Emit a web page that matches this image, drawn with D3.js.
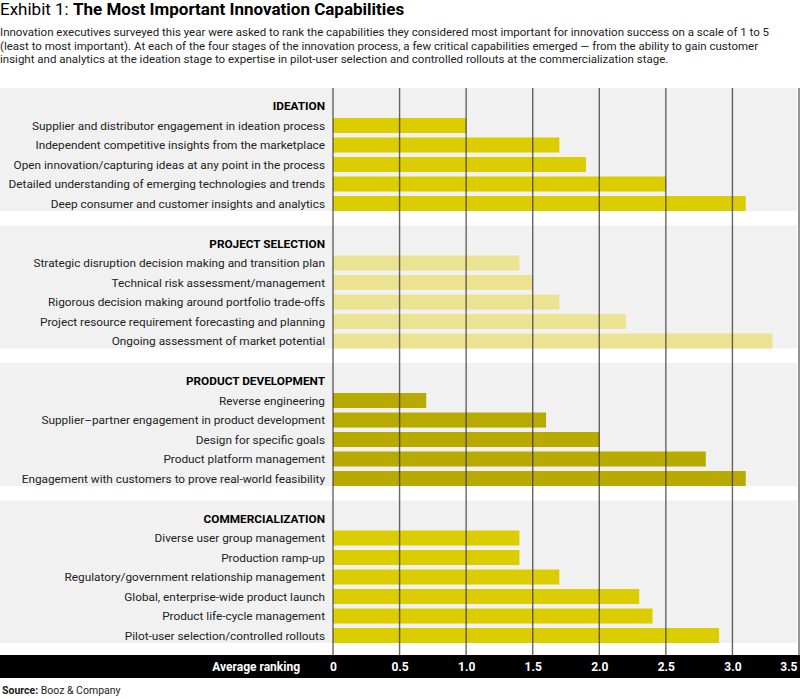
<!DOCTYPE html>
<html>
<head>
<meta charset="utf-8">
<script src="https://cdn.jsdelivr.net/npm/d3@7"></script>
<style>
  body { margin: 0; background: #fff; }
  svg { font-family: Roboto, "Noto Sans", sans-serif; }
</style>
</head>
<body>
<div id="chart"></div>
<script>
var groupNames = ["IDEATION", "PROJECT SELECTION", "PRODUCT DEVELOPMENT", "COMMERCIALIZATION"];

var ideationLabels = [
  "Supplier and distributor engagement in ideation process",
  "Independent competitive insights from the marketplace",
  "Open innovation/capturing ideas at any point in the process",
  "Detailed understanding of emerging technologies and trends",
  "Deep consumer and customer insights and analytics"
];
var ideationValues = [1.0, 1.7, 1.9, 2.5, 3.1];

var selectionLabels = [
  "Strategic disruption decision making and transition plan",
  "Technical risk assessment/management",
  "Rigorous decision making around portfolio trade-offs",
  "Project resource requirement forecasting and planning",
  "Ongoing assessment of market potential"
];
var selectionValues = [1.4, 1.5, 1.7, 2.2, 3.3];

var developmentLabels = [
  "Reverse engineering",
  "Supplier\u2013partner engagement in product development",
  "Design for specific goals",
  "Product platform management",
  "Engagement with customers to prove real-world feasibility"
];
var developmentValues = [0.7, 1.6, 2.0, 2.8, 3.1];

var commercialLabels = [
  "Diverse user group management",
  "Production ramp-up",
  "Regulatory/government relationship management",
  "Global, enterprise-wide product launch",
  "Product life-cycle management",
  "Pilot-user selection/controlled rollouts"
];
var commercialValues = [1.4, 1.4, 1.7, 2.3, 2.4, 2.9];

var tickValues = [0, 0.5, 1.0, 1.5, 2.0, 2.5, 3.0, 3.5];

var groupColors = ["#dccd00", "#ebe391", "#b8aa00", "#dccd00"];

var W = 800, H = 699;
var svg = d3.select("#chart").append("svg")
  .attr("width", W)
  .attr("height", H);

// title + intro
var title = svg.append("text").attr("x", 0).attr("y", 15).style("font-size", "17px").style("fill", "#000");
title.append("tspan").text("Exhibit 1: ");
title.append("tspan").style("font-weight", "bold").text("The Most Important Innovation Capabilities");

var intro = [
  "Innovation executives surveyed this year were asked to rank the capabilities they considered most important for innovation success on a scale of 1 to 5",
  "(least to most important). At each of the four stages of the innovation process, a few critical capabilities emerged \u2014 from the ability to gain customer",
  "insight and analytics at the ideation stage to expertise in pilot-user selection and controlled rollouts at the commercialization stage."
];
svg.selectAll("text.intro").data(intro).enter().append("text")
  .attr("class", "intro")
  .attr("x", 0)
  .attr("y", function (d, i) { return 36 + i * 13.5; })
  .style("font-size", "11.5px")
  .style("fill", "#222")
  .text(function (d) { return d; });

var x = d3.scaleLinear().domain([0, 3.5]).range([333, 799]);

var groups = [
  { name: groupNames[0], labels: ideationLabels, values: ideationValues },
  { name: groupNames[1], labels: selectionLabels, values: selectionValues },
  { name: groupNames[2], labels: developmentLabels, values: developmentValues },
  { name: groupNames[3], labels: commercialLabels, values: commercialValues }
];

var step = 19.5, panelTop = 88;
var chartTop = panelTop;

groups.forEach(function (g, gi) {
  var n = g.labels.length;
  var y = d3.scaleBand()
    .domain(g.labels)
    .range([panelTop + 27.75, panelTop + 27.75 + n * step])
    .paddingInner(0.23)
    .paddingOuter(0.115);
  var bottom = y(g.labels[n - 1]) + y.bandwidth();

  var grp = svg.append("g");
  grp.append("rect")
    .attr("x", 0).attr("y", panelTop)
    .attr("width", 797).attr("height", bottom - panelTop)
    .style("fill", "#f1f1f1");

  grp.append("text")
    .attr("x", 325).attr("y", panelTop + 22)
    .attr("text-anchor", "end")
    .style("font-size", "11.8px")
    .style("font-weight", "bold")
    .style("fill", "#000")
    .text(g.name);

  grp.selectAll("text.lab").data(g.labels).enter().append("text")
    .attr("class", "lab")
    .attr("x", 325)
    .attr("y", function (d) { return y(d) + y.bandwidth() / 2 + 4; })
    .attr("text-anchor", "end")
    .style("font-size", "11.8px")
    .style("fill", "#222")
    .text(function (d) { return d; });

  grp.selectAll("rect.bar").data(g.values).enter().append("rect")
    .attr("class", "bar")
    .attr("x", x(0))
    .attr("y", function (d, i) { return y(g.labels[i]); })
    .attr("width", function (d) { return x(d) - x(0); })
    .attr("height", y.bandwidth())
    .style("fill", groupColors[gi]);

  panelTop = bottom + 14.5;
});

var axisY = 655;

// gridlines over the bars
svg.append("g").selectAll("line").data(tickValues).enter().append("line")
  .attr("x1", function (d) { return x(d); })
  .attr("x2", function (d) { return x(d); })
  .attr("y1", chartTop)
  .attr("y2", axisY)
  .style("stroke", "#333")
  .style("stroke-opacity", 0.75)
  .style("stroke-width", 1.4);

// black axis band
svg.append("rect")
  .attr("x", 0).attr("y", axisY)
  .attr("width", W).attr("height", 23)
  .style("fill", "#000");

svg.append("text")
  .attr("x", 300).attr("y", axisY + 16)
  .attr("text-anchor", "end")
  .style("font-size", "12px")
  .style("font-weight", "bold")
  .style("fill", "#fff")
  .text("Average ranking");

var axis = d3.axisBottom(x)
  .tickValues(tickValues)
  .tickSize(0)
  .tickFormat(function (d) { return d === 0 ? "0" : d.toFixed(1); });

var ax = svg.append("g")
  .attr("transform", "translate(0," + (axisY + 4) + ")")
  .call(axis);
ax.select(".domain").remove();
ax.selectAll("text")
  .style("font-family", "Roboto, sans-serif")
  .style("font-size", "12px")
  .style("font-weight", "bold")
  .style("fill", "#fff");
ax.selectAll(".tick").filter(function (d) { return d === 3.5; })
  .select("text").attr("text-anchor", "end").attr("x", -2);

// source
var src = svg.append("text").attr("x", 2).attr("y", 694).style("font-size", "10.5px").style("fill", "#222");
src.append("tspan").style("font-weight", "bold").text("Source: ");
src.append("tspan").text("Booz & Company");
</script>
</body>
</html>
